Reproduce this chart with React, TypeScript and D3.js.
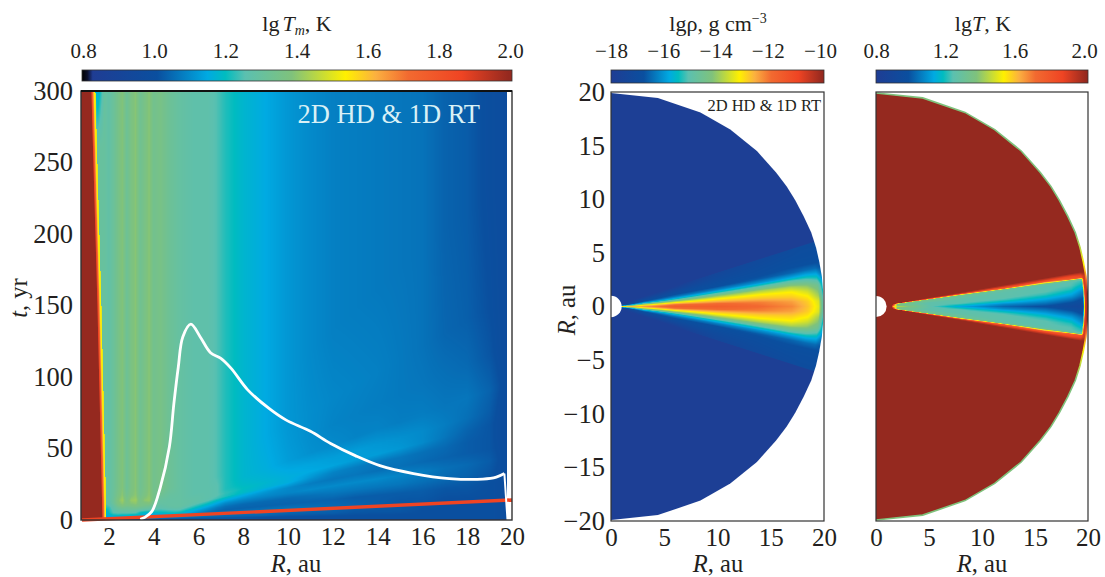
import React, { useEffect, useMemo, useRef } from 'react'
import * as d3 from 'd3'

// colour bar stops (lg T scale)
const cmapValues = [0.8, 0.815, 0.83, 1.01, 1.15, 1.2, 1.255, 1.385, 1.535, 1.62, 1.71, 1.86, 1.99, 2.0]
const cmapColors = ['#000000', '#0b0f2a', '#1f3d94', '#0a4f9f', '#00aae2', '#00bcc0', '#5bc0b0', '#7fc27c', '#fff000', '#fbb040', '#f26a30', '#ef4423', '#95291f', '#95291f']

// left panel: lg Tm on an R-slope table, slope = t / (R - 2.5) because the bands fan out along rays
const radiiAu = [1.2, 1.5, 1.8, 2.0, 2.2, 2.4, 2.6, 2.8, 3.0, 3.2, 3.4, 3.6, 3.8, 4.0, 4.3, 4.7, 5.2, 5.8, 6.4, 6.8, 7.2, 8, 9, 10, 11, 12, 13, 14, 15, 16, 17, 18, 19, 19.8]
const raySlopes = [0.3, 0.5, 1, 1.5, 2, 2.5, 3, 3.5, 4, 4.6, 5.5, 7, 9, 14, 104, 120]

const stripeHead = [1.34, 1.30, 1.30, 1.28, 1.31, 1.35, 1.39, 1.32, 1.37, 1.395, 1.33, 1.36, 1.395, 1.34, 1.36, 1.32]
const stripeHeadTop = [1.34, 1.15, 1.30, 1.28, 1.31, 1.35, 1.39, 1.32, 1.37, 1.395, 1.33, 1.36, 1.395, 1.34, 1.36, 1.32]
const tailTop = [1.29, 1.27, 1.27, 1.25, 1.22, 1.18, 1.15, 1.12, 1.10, 1.085, 1.08, 1.075, 1.07, 1.065, 1.04, 1.03, 1.0, 0.98]
const s03 = [1.10, 1.10, 1.10, 1.10, 1.10, 1.10, 1.10, 1.10, 1.10, 1.09, 1.08, 1.07, 1.06, 1.05, 1.04, 1.03, 1.02, 1.02, 1.02, 1.02, 1.02, 1.02, 1.01, 1.01, 1.01, 1.01, 1.01, 1.01, 1.01, 1.01, 1.01, 1.01, 1.01, 0.99]
const s05 = [1.12, 1.12, 1.12, 1.12, 1.12, 1.12, 1.12, 1.12, 1.12, 1.11, 1.10, 1.09, 1.08, 1.07, 1.05, 1.04, 1.04, 1.04, 1.04, 1.04, 1.04, 1.04, 1.04, 1.03, 1.03, 1.03, 1.02, 1.02, 1.02, 1.01, 1.01, 1.01, 1.01, 0.99]
const s10 = [1.15, 1.14, 1.14, 1.15, 1.17, 1.17, 1.16, 1.16, 1.15, 1.15, 1.15, 1.14, 1.14, 1.13, 1.12, 1.12, 1.12, 1.10, 1.08, 1.07, 1.07, 1.07, 1.07, 1.07, 1.06, 1.05, 1.04, 1.03, 1.02, 1.02, 1.01, 1.01, 1.01, 0.99]
const s15 = [1.18, 1.15, 1.15, 1.18, 1.21, 1.22, 1.21, 1.21, 1.20, 1.20, 1.18, 1.16, 1.15, 1.15, 1.15, 1.16, 1.16, 1.12, 1.07, 1.05, 1.04, 1.04, 1.04, 1.04, 1.04, 1.04, 1.03, 1.03, 1.03, 1.03, 1.02, 1.02, 1.01, 0.99]
const s20 = [1.20, 1.15, 1.15, 1.20, 1.25, 1.26, 1.26, 1.26, 1.26, 1.25, 1.20, 1.18, 1.17, 1.18, 1.19, 1.20, 1.20, 1.15, 1.11, 1.08, 1.06, 1.05, 1.05, 1.05, 1.06, 1.07, 1.07, 1.07, 1.07, 1.06, 1.05, 1.04, 1.02, 0.99]
const s25 = [1.24, 1.18, 1.17, 1.21, 1.26, 1.28, 1.29, 1.29, 1.29, 1.28, 1.25, 1.23, 1.22, 1.22, 1.22, 1.23, 1.24, 1.20, 1.16, 1.13, 1.10, 1.09, 1.09, 1.09, 1.10, 1.10, 1.10, 1.10, 1.09, 1.08, 1.06, 1.05, 1.03, 0.99]
const s30 = [1.27, 1.21, 1.19, 1.22, 1.27, 1.30, 1.32, 1.31, 1.32, 1.32, 1.30, 1.29, 1.28, 1.26, 1.25, 1.26, 1.27, 1.24, 1.21, 1.18, 1.16, 1.14, 1.12, 1.10, 1.08, 1.07, 1.07, 1.06, 1.06, 1.05, 1.04, 1.03, 1.02, 0.99]
const s35 = [1.30, 1.24, 1.22, 1.23, 1.28, 1.32, 1.35, 1.33, 1.34, 1.35, 1.33, 1.32, 1.31, 1.28, 1.27, 1.28, 1.29, 1.27, 1.26, 1.24, 1.22, 1.19, 1.17, 1.16, 1.12, 1.09, 1.08, 1.07, 1.07, 1.06, 1.05, 1.03, 1.02, 0.98]
const s40 = [1.30, 1.25, 1.23, 1.25, 1.29, 1.35, 1.38, 1.36, 1.37, 1.38, 1.36, 1.35, 1.34, 1.31, 1.28, 1.29, 1.29, 1.28, 1.27, 1.26, 1.23, 1.20, 1.18, 1.16, 1.15, 1.14, 1.13, 1.13, 1.12, 1.10, 1.07, 1.04, 1.02, 0.98]
const s46 = [1.33, 1.28, 1.26, 1.26, 1.31, 1.37, 1.40, 1.37, 1.39, 1.40, 1.36, 1.37, 1.38, 1.33, 1.29, 1.29, 1.29, 1.28, 1.27, 1.26, 1.22, 1.19, 1.17, 1.15, 1.14, 1.13, 1.13, 1.12, 1.11, 1.10, 1.08, 1.06, 1.03, 0.98]
const s55 = [1.34, 1.30, 1.28, 1.27, 1.32, 1.38, 1.42, 1.36, 1.41, 1.42, 1.36, 1.40, 1.41, 1.35, 1.30, 1.29, 1.29, 1.27, 1.27, 1.26, 1.22, 1.18, 1.16, 1.13, 1.11, 1.10, 1.09, 1.09, 1.08, 1.08, 1.07, 1.07, 1.04, 0.99]
const s70 = [1.34, 1.31, 1.30, 1.28, 1.31, 1.36, 1.40, 1.34, 1.38, 1.40, 1.34, 1.37, 1.40, 1.35, 1.33, 1.30, 1.29, 1.27, 1.27, 1.25, 1.22, 1.18, 1.155, 1.125, 1.105, 1.09, 1.085, 1.08, 1.075, 1.07, 1.06, 1.05, 1.02, 0.98]
const s90 = [...stripeHead, 1.29, 1.27, 1.27, 1.25, 1.22, 1.18, 1.15, 1.12, 1.105, 1.095, 1.09, 1.085, 1.075, 1.065, 1.045, 1.035, 1.01, 0.98]
const s14 = [...stripeHead, ...tailTop]
const s104 = [...stripeHead, ...tailTop]
const s120 = [...stripeHeadTop, ...tailTop]
const tempRows = [s03, s05, s10, s15, s20, s25, s30, s35, s40, s46, s55, s70, s90, s14, s104, s120]
const floorValue = 0.86

// inner hot boundary and the colour steps just outside it
const hotEdgeT = [0, 3, 150, 300]
const hotEdgeR = [1.69, 1.69, 1.47, 1.2]
const hotOffset = [0, 0.06, 0.14, 0.2]
const hotValue = [1.98, 1.78, 1.55, 1.5]

// white isotherm and red front, (R, t) pairs
const isothermR = [3.4, 3.6, 3.92, 4.3, 4.7, 4.9, 5.1, 5.3, 5.66, 6.08, 6.54, 7.0, 7.46, 8.2, 9.15, 9.9, 11, 11.9, 13, 14.1, 15.6, 17.2, 18.7, 19.3, 19.66]
const isothermT = [0.5, 1.8, 6, 23, 51, 81, 107, 128, 137, 128, 117, 113, 106, 91, 78, 70, 62, 53.5, 45, 38, 32.5, 29, 28.6, 30, 32.5]
const isothermEndR = [19.66, 19.76, 19.8]
const isothermEndT = [32.5, 9, 0]
const frontR = [0.8, 20]
const frontT = [0, 14]

// disk outline (upper half, mirrored in the drawing)
const outlineR = [0, 4.4, 8.4, 11.2, 13.7, 15.5, 16.5, 17.3, 18.1, 18.8, 19.25, 19.55, 19.8, 19.92, 19.95]
const outlineZ = [19.9, 19.45, 18.1, 16.5, 14.5, 12.5, 11.2, 9.9, 8.4, 6.9, 5.5, 4.2, 2.8, 1.4, 0]

// lg rho on an r-angle table (degrees from the midplane)
const rhoAngles = [0, 1.5, 3, 4.5, 6, 7.5, 9, 10.5, 12, 14, 17.4, 17.7, 90]
const rhoRadii = [1, 3, 6, 10, 14, 17, 18.5, 19.5, 19.95]
const rhoR1 = [-13, -13.8, -15, -16, -16.8, -17.2, -17.4, -17.6, -17.7, -17.7, -17.7, -17.7, -17.7]
const rhoR3 = [-12.4, -12.8, -13.5, -14.5, -15.5, -16.2, -16.6, -16.8, -17, -17.3, -17.7, -17.7, -17.7]
const rhoR6 = [-11.6, -11.9, -12.8, -13.8, -15.0, -15.8, -16.3, -16.6, -16.8, -17.1, -17.7, -17.7, -17.7]
const rhoR10 = [-11.6, -11.9, -12.7, -13.3, -14.2, -15.3, -16.1, -16.6, -16.7, -16.9, -17.2, -17.7, -17.7]
const rhoR14 = [-11.9, -12.1, -12.7, -13.1, -13.8, -14.9, -15.9, -16.5, -16.7, -16.8, -17.0, -17.7, -17.7]
const rhoR17 = [-12.2, -12.4, -12.8, -13.1, -13.7, -14.6, -15.7, -16.4, -16.6, -16.7, -16.9, -17.7, -17.7]
const rhoR18 = [-12.7, -12.8, -13.1, -13.5, -14, -14.8, -15.6, -16.3, -16.6, -16.7, -16.8, -17.7, -17.7]
const rhoR19 = [-13.3, -13.4, -13.8, -14.1, -14.5, -15.1, -15.7, -16.3, -16.6, -16.7, -16.8, -17.7, -17.7]
const rhoR20 = [-15, -15, -15.2, -15.4, -15.5, -15.8, -16.2, -16.5, -16.6, -16.7, -16.8, -17.7, -17.7]
const rhoRows = [rhoR1, rhoR3, rhoR6, rhoR10, rhoR14, rhoR17, rhoR18, rhoR19, rhoR20]

// lg T on the same kind of table
const tAngles = [0, 1, 2, 3, 4, 5, 6, 7, 7.5, 7.9, 8.3, 8.8, 9.5, 90]
const tRadii = [1.5, 1.6, 2, 5, 8, 12, 16, 18.5, 19.55, 19.75, 19.95]
const tR15 = [2, 2, 2, 2, 2, 2, 2, 2, 2, 2, 2, 2, 2, 2]
const tR16 = [1.6, 1.65, 1.75, 1.8, 1.9, 2, 2, 2, 2, 2, 2, 2, 2, 2]
const tR2 = [1.45, 1.42, 1.4, 1.38, 1.36, 1.36, 1.38, 1.42, 1.5, 1.7, 1.85, 2, 2, 2]
const tR5 = [1.27, 1.28, 1.27, 1.27, 1.27, 1.3, 1.32, 1.34, 1.4, 1.72, 1.85, 1.95, 2, 2]
const tR8 = [1.15, 1.2, 1.25, 1.27, 1.27, 1.28, 1.3, 1.32, 1.38, 1.55, 1.82, 1.95, 2, 2]
const tR12 = [1.05, 1.1, 1.18, 1.24, 1.27, 1.27, 1.27, 1.29, 1.36, 1.74, 1.82, 1.92, 2, 2]
const tR16b = [1.0, 1.06, 1.12, 1.18, 1.23, 1.26, 1.26, 1.27, 1.34, 1.55, 1.8, 1.9, 2, 2]
const tR18 = [0.95, 1.0, 1.06, 1.12, 1.17, 1.22, 1.25, 1.26, 1.32, 1.75, 1.82, 1.88, 2, 2]
const tR19 = [0.93, 0.96, 1.0, 1.05, 1.09, 1.14, 1.2, 1.24, 1.3, 1.8, 1.85, 1.9, 2, 2]
const tR197 = [1.9, 1.9, 1.9, 1.9, 1.9, 1.9, 1.9, 1.9, 1.9, 1.9, 1.9, 1.95, 2, 2]
const tRows = [tR15, tR16, tR2, tR5, tR8, tR12, tR16b, tR18, tR19, tR197, tR197]

const ticksR = [2, 4, 6, 8, 10, 12, 14, 16, 18, 20]
const ticksT = [0, 50, 100, 150, 200, 250, 300]
const ticksDisk = [0, 5, 10, 15, 20]
const ticksZ = [-20, -15, -10, -5, 0, 5, 10, 15, 20]
const ticksBarA = [0.8, 1.0, 1.2, 1.4, 1.6, 1.8, 2.0]
const ticksBarB = [-18, -16, -14, -12, -10]
const ticksBarC = [0.8, 1.2, 1.6, 2.0]

const serif = '"Liberation Serif", serif'
const ink = '#231f20'

const colorOf = d3.scaleLinear<string>().domain(cmapValues).range(cmapColors).clamp(true)
const lut = d3.range(1201).map(i => {
  const c = d3.rgb(colorOf(0.8 + i / 1000))
  return [c.r, c.g, c.b]
})

function lookup(xs: number[], ys: number[], rows: number[][], x: number, y: number) {
  // xs goes along a row, ys picks the row
  const cx = Math.max(xs[0], Math.min(xs[xs.length - 1], x))
  const cy = Math.max(ys[0], Math.min(ys[ys.length - 1], y))
  const i = Math.min(xs.length - 2, Math.max(0, d3.bisectRight(xs, cx) - 1))
  const j = Math.min(ys.length - 2, Math.max(0, d3.bisectRight(ys, cy) - 1))
  const fx = (cx - xs[i]) / (xs[i + 1] - xs[i])
  const fy = (cy - ys[j]) / (ys[j + 1] - ys[j])
  const a = rows[j][i] * (1 - fx) + rows[j][i + 1] * fx
  const b = rows[j + 1][i] * (1 - fx) + rows[j + 1][i + 1] * fx
  return a * (1 - fy) + b * fy
}

// value(px, py) gives a value on the lg T colour scale, or null for nothing
function raster(w: number, h: number, value: (px: number, py: number) => number | null) {
  const canvas = document.createElement('canvas')
  canvas.width = w
  canvas.height = h
  const ctx = canvas.getContext('2d')!
  const img = ctx.createImageData(w, h)
  for (let py = 0; py < h; py++) {
    for (let px = 0; px < w; px++) {
      const v = value(px + 0.5, py + 0.5)
      if (v === null) continue
      const c = lut[Math.max(0, Math.min(1200, Math.round((v - 0.8) * 1000)))]
      const k = (py * w + px) * 4
      img.data[k] = c[0]
      img.data[k + 1] = c[1]
      img.data[k + 2] = c[2]
      img.data[k + 3] = 255
    }
  }
  ctx.putImageData(img, 0, 0)
  return canvas.toDataURL()
}

function Axis({ kind, scale, ticks, format, size, at, pad }: any) {
  const ref = useRef<SVGGElement>(null)
  useEffect(() => {
    const axis = kind === 'left' ? d3.axisLeft(scale) : kind === 'top' ? d3.axisTop(scale) : d3.axisBottom(scale)
    const g = d3.select(ref.current!)
    g.call(axis.tickValues(ticks).tickFormat(format).tickSize(0).tickPadding(pad) as any)
    g.select('.domain').remove()
    g.selectAll('text').attr('fill', ink).style('font-family', serif).style('font-size', size + 'px')
  }, [])
  const tr = kind === 'left' ? `translate(${at},0)` : `translate(0,${at})`
  return <g ref={ref} transform={tr} />
}

function ColorBar({ id, x0, x1, y0, y1, from }: any) {
  const stops = cmapValues.filter(v => v >= from)
  return (
    <g>
      <defs>
        <linearGradient id={id} x1="0" x2="1" y1="0" y2="0">
          {stops.map(v => (
            <stop key={v} offset={(v - from) / (2 - from)} stopColor={colorOf(v)} />
          ))}
        </linearGradient>
      </defs>
      <rect x={x0} y={y0} width={x1 - x0} height={y1 - y0} fill={`url(#${id})`} stroke="#333" strokeWidth={0.8} />
    </g>
  )
}

function Label({ x, y, rotate, children, size = 24.5 }: any) {
  return (
    <text x={x} y={y} textAnchor="middle" fill={ink} fontFamily={serif} fontSize={size}
      transform={rotate ? `rotate(-90 ${x} ${y})` : undefined}>
      {children}
    </text>
  )
}

export default function App() {
  const left = { x0: 81, x1: 512, y0: 91, y1: 520 }
  const mid = { x0: 611, x1: 824, y0: 92, y1: 521 }
  const right = { x0: 876, x1: 1088, y0: 92, y1: 521 }

  const xR = d3.scaleLinear().domain([0.8, 20]).range([left.x0 + 1, left.x1])
  const yT = d3.scaleLinear().domain([0, 300]).range([left.y1, left.y0])
  const xMid = d3.scaleLinear().domain([0, 20]).range([mid.x0, mid.x1])
  const xRight = d3.scaleLinear().domain([0, 20]).range([right.x0, right.x1])
  const yZ = d3.scaleLinear().domain([-20, 20]).range([mid.y1, mid.y0])

  const edgeAt = d3.scaleLinear().domain(hotEdgeT).range(hotEdgeR)
  const stepAt = d3.scaleLinear().domain(hotOffset).range(hotValue).clamp(true)

  const tempImage = useMemo(() => raster(left.x1 - left.x0, left.y1 - left.y0, (px, py) => {
    const R = xR.invert(left.x0 + px)
    const t = yT.invert(left.y0 + py)
    if (R > 19.76) return null
    if (t < 0.8) return floorValue
    const edge = edgeAt(t)
    if (R < edge) return 1.995
    const d = R - edge
    if (d < hotOffset[hotOffset.length - 1]) return stepAt(d)
    return lookup(radiiAu, raySlopes, tempRows, R, t / (Math.max(R, 5) - 2.5))
  }), [])

  const polar = (xs: any, angles: number[], radii: number[], rows: number[][], map: (v: number) => number) =>
    raster(213, mid.y1 - mid.y0, (px, py) => {
      const R = xs.invert(xs.range()[0] + px)
      const z = yZ.invert(mid.y0 + py)
      const r = Math.hypot(R, z)
      const a = (Math.atan2(Math.abs(z), R) * 180) / Math.PI
      return map(lookup(angles, radii, rows, a, r))
    })

  const rhoImage = useMemo(() => polar(xMid, rhoAngles, rhoRadii, rhoRows, v => 0.8 + (1.2 * (v + 18)) / 8), [])
  const tempDiskImage = useMemo(() => polar(xRight, tAngles, tRadii, tRows, v => v), [])

  const isotherm = d3.line<number>().x(i => xR(isothermR[i])).y(i => yT(isothermT[i])).curve(d3.curveCatmullRom.alpha(0.5))
  const isothermEnd = d3.line<number>().x(i => xR(isothermEndR[i])).y(i => yT(isothermEndT[i]))
  const front = d3.line<number>().x(i => xR(frontR[i])).y(i => yT(frontT[i]))

  const outlineIdx = d3.range(outlineR.length)
  const outlinePath = (xs: any) => {
    const line = d3.line<[number, number]>().x(d => xs(d[0])).y(d => yZ(d[1]))
    const upper = outlineIdx.map(i => [outlineR[i], outlineZ[i]] as [number, number])
    const lower = outlineIdx.slice().reverse().map(i => [outlineR[i], -outlineZ[i]] as [number, number])
    return line([...upper, ...lower.slice(1)])!
  }

  const f1 = d3.format('.1f')
  const fd = d3.format('d')

  return (
    <svg width={1105} height={577} style={{ position: 'absolute', left: 0, top: 0, background: '#fff' }}>
      <defs>
        <clipPath id="clipMid"><path d={outlinePath(xMid)} /></clipPath>
        <clipPath id="clipRight"><path d={outlinePath(xRight)} /></clipPath>
        <linearGradient id="rim" gradientUnits="userSpaceOnUse" x1="0" x2="0" y1={yZ(20)} y2={yZ(-20)}>
          <stop offset="0" stopColor="#7fc27c" />
          <stop offset="0.33" stopColor="#7fc27c" />
          <stop offset="0.40" stopColor="#fff000" />
          <stop offset="0.44" stopColor="#f26a30" />
          <stop offset="0.47" stopColor="#95291f" />
          <stop offset="0.53" stopColor="#95291f" />
          <stop offset="0.56" stopColor="#f26a30" />
          <stop offset="0.60" stopColor="#fff000" />
          <stop offset="0.67" stopColor="#7fc27c" />
          <stop offset="1" stopColor="#7fc27c" />
        </linearGradient>
      </defs>

      {/* left panel */}
      <image x={left.x0} y={left.y0} width={left.x1 - left.x0} height={left.y1 - left.y0} href={tempImage} preserveAspectRatio="none" />
      <path d={front(d3.range(frontR.length))!} fill="none" stroke="#ef4423" strokeWidth={3.4} />
      <path d={isotherm(d3.range(isothermR.length))!} fill="none" stroke="#fff" strokeWidth={2.8} />
      <path d={isothermEnd(d3.range(isothermEndR.length))!} fill="none" stroke="#fff" strokeWidth={2} />
      <rect x={left.x0} y={left.y0} width={left.x1 - left.x0} height={left.y1 - left.y0} fill="none" stroke="#333" strokeWidth={1.4} />
      <line x1={left.x0} x2={left.x1} y1={left.y0} y2={left.y0} stroke="#111" strokeWidth={2} />
      <text x={480} y={123} textAnchor="end" fill="#d9f1f6" fontFamily={serif} fontSize={26.5}>2D HD &amp; 1D RT</text>
      <Axis kind="left" scale={yT} ticks={ticksT} format={fd} at={left.x0} size={26.5} pad={8} />
      <Axis kind="bottom" scale={xR} ticks={ticksR} format={fd} at={left.y1} size={25} pad={7} />
      <ColorBar id="barA" x0={82} x1={512} y0={70} y1={81} from={0.8} />
      <Axis kind="top" scale={d3.scaleLinear().domain([0.8, 2]).range([83, 510])} ticks={ticksBarA} format={f1} at={70} size={21} pad={12} />
      <Label x={297} y={31} size={22}>lg<tspan fontStyle="italic" dx={3}>T</tspan><tspan fontStyle="italic" fontSize={14} dy={4}>m</tspan><tspan dy={-4}>, K</tspan></Label>
      <Label x={296} y={571.5}><tspan fontStyle="italic">R</tspan>, au</Label>
      <Label x={27} y={298} rotate><tspan fontStyle="italic">t</tspan>, yr</Label>

      {/* density panel */}
      <g clipPath="url(#clipMid)">
        <image x={mid.x0} y={mid.y0} width={213} height={mid.y1 - mid.y0} href={rhoImage} preserveAspectRatio="none" />
      </g>
      <circle cx={xMid(0)} cy={yZ(0)} r={xMid(1) - xMid(0)} fill="#fff" />
      <rect x={mid.x0} y={mid.y0} width={mid.x1 - mid.x0} height={mid.y1 - mid.y0} fill="none" stroke="#333" strokeWidth={1.2} />
      <text x={821} y={111} textAnchor="end" fill={ink} fontFamily={serif} fontSize={16.5}>2D HD &amp; 1D RT</text>
      <Axis kind="left" scale={yZ} ticks={ticksZ} format={fd} at={mid.x0} size={26.5} pad={6} />
      <Axis kind="bottom" scale={xMid} ticks={ticksDisk} format={fd} at={mid.y1} size={25} pad={7} />
      <ColorBar id="barB" x0={611} x1={824} y0={70} y1={83} from={0.83} />
      <Axis kind="top" scale={d3.scaleLinear().domain([-18, -10]).range([611, 820])} ticks={ticksBarB} format={fd} at={70} size={21} pad={12} />
      <Label x={718} y={31} size={22}>lgρ, g cm<tspan fontSize={14} dy={-8}>−3</tspan></Label>
      <Label x={718} y={571.5}><tspan fontStyle="italic">R</tspan>, au</Label>
      <Label x={575} y={310} rotate><tspan fontStyle="italic">R</tspan>, au</Label>

      {/* temperature panel */}
      <g clipPath="url(#clipRight)">
        <image x={right.x0} y={right.y0} width={213} height={right.y1 - right.y0} href={tempDiskImage} preserveAspectRatio="none" />
      </g>
      <path d={outlinePath(xRight)} fill="none" stroke="url(#rim)" strokeWidth={1.6} />
      <circle cx={xRight(0)} cy={yZ(0)} r={xRight(1) - xRight(0)} fill="#fff" />
      <rect x={right.x0} y={right.y0} width={right.x1 - right.x0} height={right.y1 - right.y0} fill="none" stroke="#333" strokeWidth={1.2} />
      <Axis kind="bottom" scale={xRight} ticks={ticksDisk} format={fd} at={right.y1} size={25} pad={7} />
      <ColorBar id="barC" x0={876} x1={1088} y0={70} y1={83} from={0.83} />
      <Axis kind="top" scale={d3.scaleLinear().domain([0.8, 2]).range([876, 1084])} ticks={ticksBarC} format={f1} at={70} size={21} pad={12} />
      <Label x={983} y={31} size={22}>lg<tspan fontStyle="italic">T</tspan>, K</Label>
      <Label x={982} y={571.5}><tspan fontStyle="italic">R</tspan>, au</Label>
    </svg>
  )
}
